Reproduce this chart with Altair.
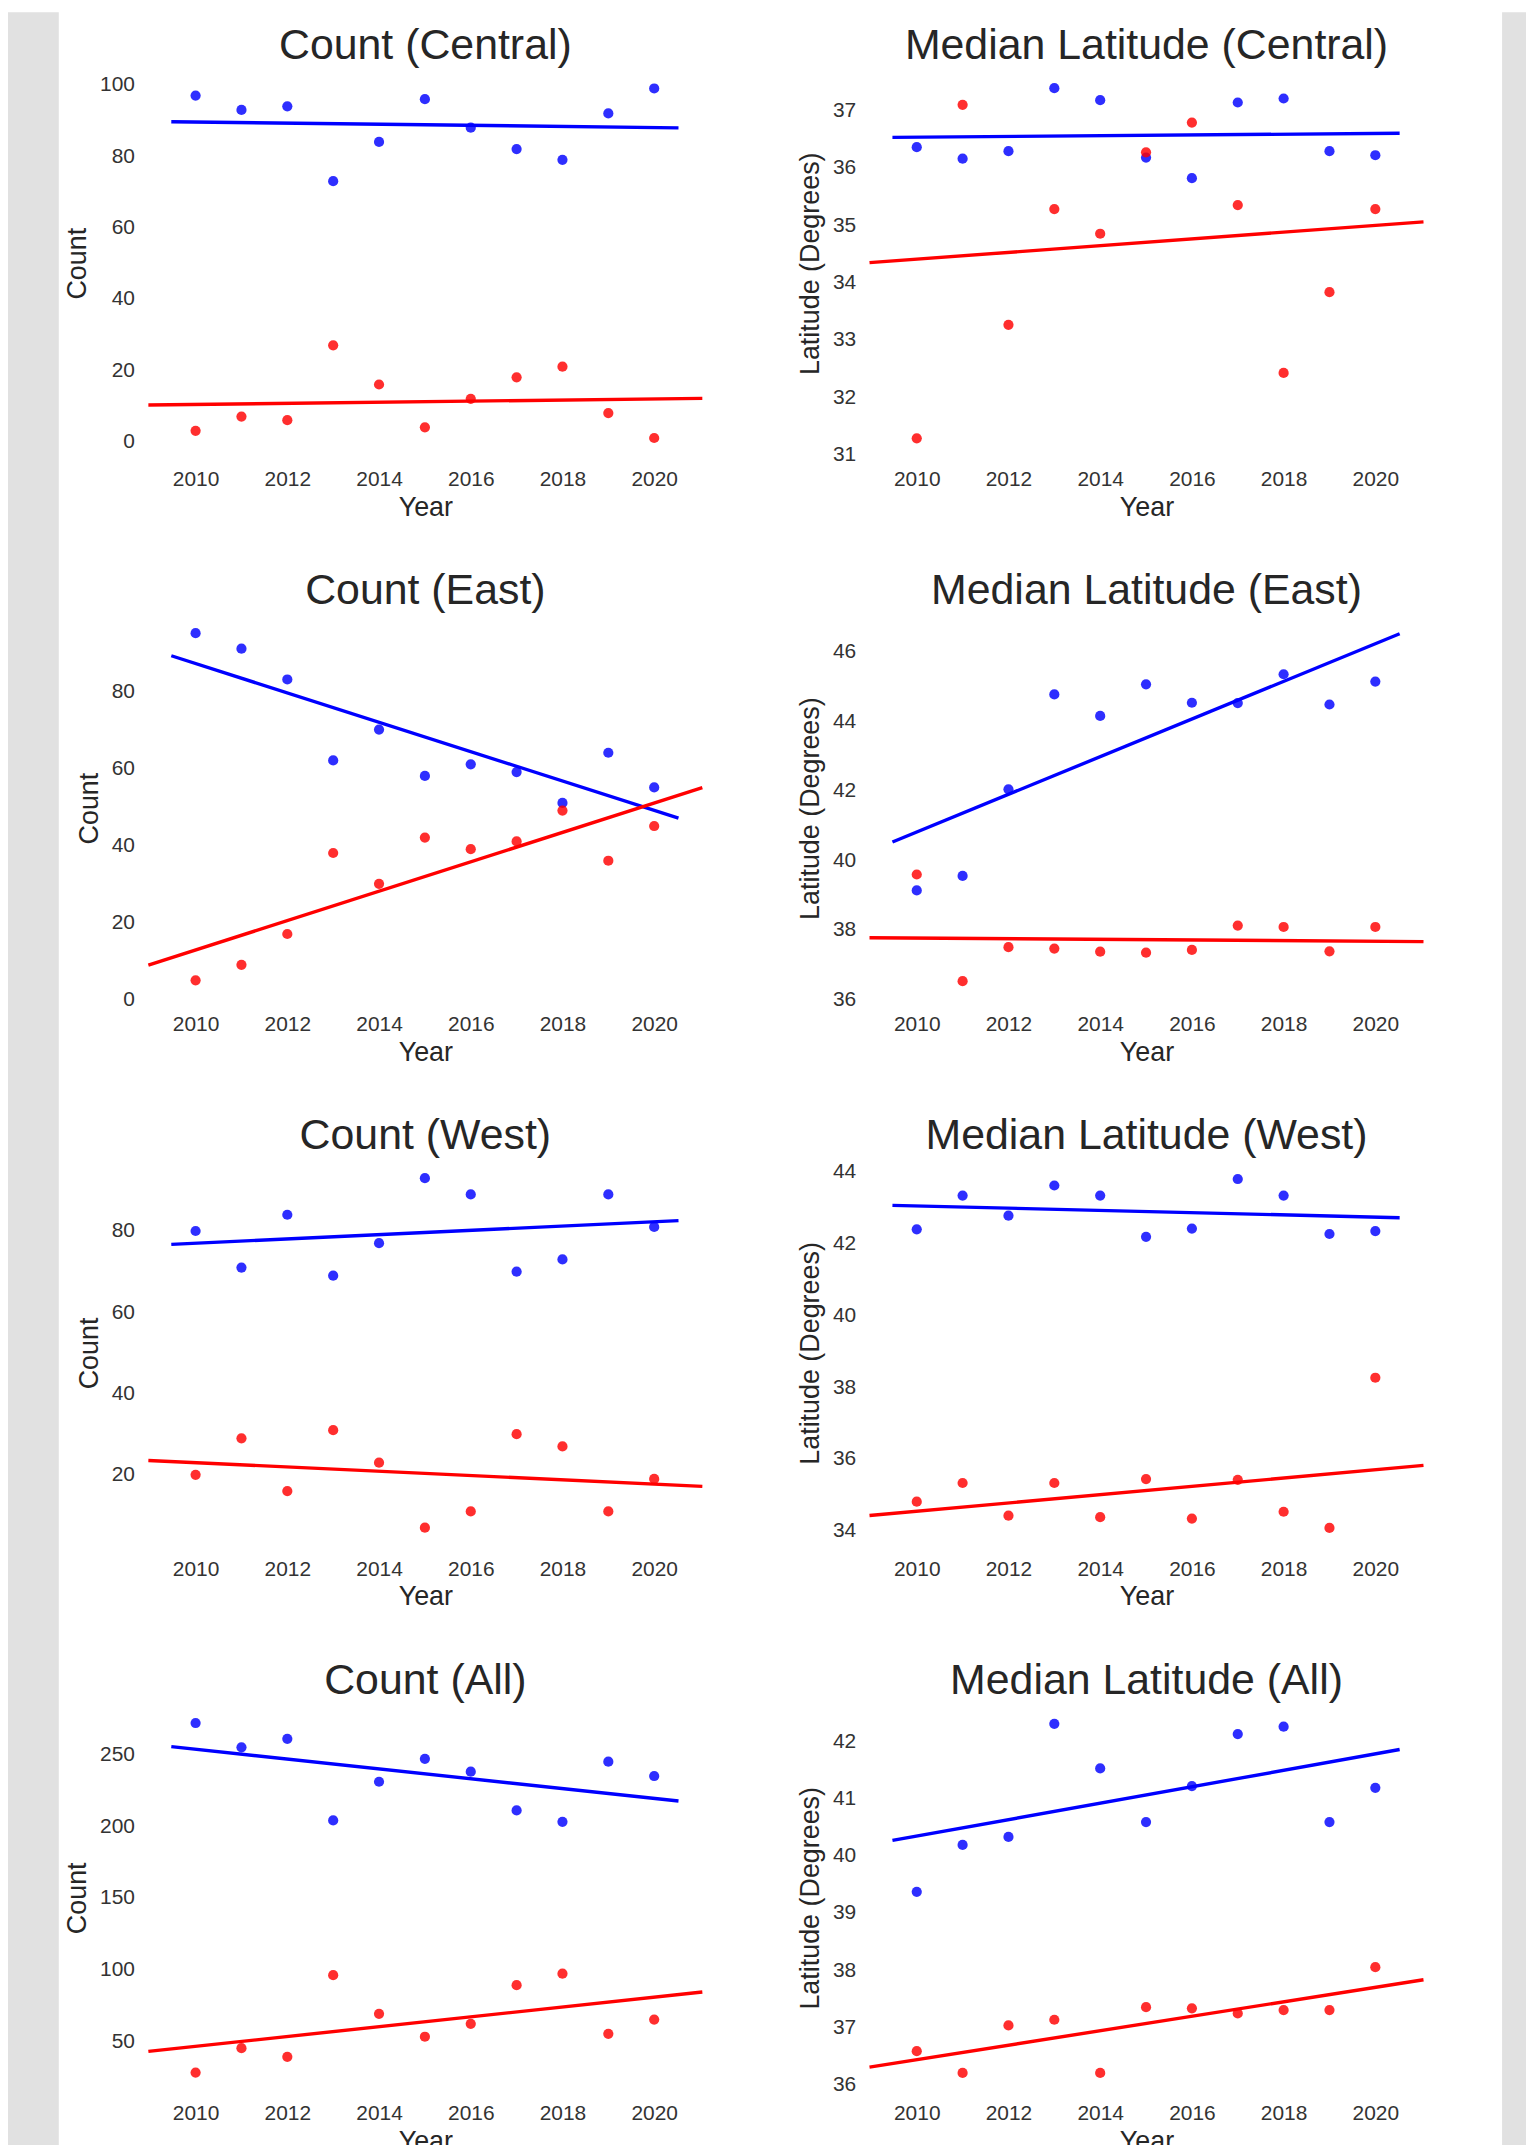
import altair as alt
import pandas as pd

# ---------------- data ----------------
years = [2010, 2011, 2012, 2013, 2014, 2015, 2016, 2017, 2018, 2019, 2020]
series_names = ["Series 1", "Series 2"]

count_central_blue = [97, 93, 94, 73, 84, 96, 88, 82, 79, 92, 99]
count_central_red = [3, 7, 6, 27, 16, 4, 12, 18, 21, 8, 1]
lat_central_blue = [36.36, 36.16, 36.29, 37.39, 37.18, 36.18, 35.82, 37.14, 37.21, 36.29, 36.22]
lat_central_red = [31.28, 37.10, 33.26, 35.28, 34.85, 36.27, 36.79, 35.35, 32.42, 33.83, 35.28]

count_east_blue = [95, 91, 83, 62, 70, 58, 61, 59, 51, 64, 55]
count_east_red = [5, 9, 17, 38, 30, 42, 39, 41, 49, 36, 45]
lat_east_blue = [39.13, 39.55, 42.04, 44.77, 44.15, 45.06, 44.53, 44.52, 45.35, 44.48, 45.14]
lat_east_red = [39.59, 36.52, 37.50, 37.46, 37.37, 37.34, 37.42, 38.12, 38.08, 37.38, 38.08]

count_west_blue = [80, 71, 84, 69, 77, 93, 89, 70, 73, 89, 81]
count_west_red = [20, 29, 16, 31, 23, 7, 11, 30, 27, 11, 19]
lat_west_blue = [42.39, 43.33, 42.77, 43.61, 43.33, 42.18, 42.41, 43.79, 43.33, 42.26, 42.34]
lat_west_red = [34.81, 35.33, 34.42, 35.33, 34.38, 35.44, 34.34, 35.42, 34.53, 34.08, 38.26]

count_all_blue = [272, 255, 261, 204, 231, 247, 238, 211, 203, 245, 235]
count_all_red = [28, 45, 39, 96, 69, 53, 62, 89, 97, 55, 65]
lat_all_blue = [39.37, 40.19, 40.33, 42.31, 41.53, 40.59, 41.22, 42.13, 42.26, 40.59, 41.19]
lat_all_red = [36.58, 36.20, 37.03, 37.13, 36.20, 37.35, 37.33, 37.24, 37.30, 37.30, 38.05]

x_ticks = [2010, 2012, 2014, 2016, 2018, 2020]

# ---------------- styling ----------------
FONT = "Liberation Sans"
BLUE = "#0000ff"
RED = "#ff0000"
GREY = "#e1e1e1"
X_DOMAIN = [2008.95, 2021.07]
BLUE_EXT = [2009.47, 2020.53]
RED_EXT = [2008.97, 2021.05]
PW, PH = 558, 386


def panel(title, ytitle, blue, red, ydom, yticks):
    df = pd.DataFrame({
        "Year": years + years,
        "Value": blue + red,
        "Series": [series_names[0]] * len(years) + [series_names[1]] * len(years),
    })
    base = alt.Chart(df)
    ex = alt.X("Year:Q",
               scale=alt.Scale(domain=X_DOMAIN, nice=False, zero=False),
               axis=alt.Axis(values=x_ticks, format="d", title="Year",
                             labelPadding=13, titlePadding=5))
    ey = alt.Y("Value:Q",
               scale=alt.Scale(domain=ydom, nice=False, zero=False),
               axis=alt.Axis(values=yticks, format="d", title=ytitle,
                             labelPadding=13, titlePadding=8))
    layers = []
    for name, color, ext in ((series_names[0], BLUE, BLUE_EXT),
                             (series_names[1], RED, RED_EXT)):
        sub = base.transform_filter(alt.datum.Series == name)
        layers.append(sub.mark_circle(size=105, opacity=0.82, color=color)
                      .encode(x=ex, y=ey))
        layers.append(sub.transform_regression("Year", "Value", extent=ext)
                      .mark_line(color=color, strokeWidth=3.4)
                      .encode(x=ex, y=ey))
    return alt.layer(*layers).properties(
        width=PW, height=PH,
        title=alt.TitleParams(title, fontSize=43, font=FONT, fontWeight="normal",
                              color="#262626", anchor="middle", frame="group",
                              baseline="alphabetic", offset=-31),
    )


panels = [
    panel("Count (Central)", "Count", count_central_blue, count_central_red,
          [-3.9, 103.9], [0, 20, 40, 60, 80, 100]),
    panel("Median Latitude (Central)", "Latitude (Degrees)", lat_central_blue, lat_central_red,
          [30.98, 37.69], [31, 32, 33, 34, 35, 36, 37]),
    panel("Count (East)", "Count", count_east_blue, count_east_red,
          [-0.2, 99.5], [0, 20, 40, 60, 80]),
    panel("Median Latitude (East)", "Latitude (Degrees)", lat_east_blue, lat_east_red,
          [35.97, 47.03], [36, 38, 40, 42, 44, 46]),
    panel("Count (West)", "Count", count_west_blue, count_west_red,
          [2.7, 97.3], [20, 40, 60, 80]),
    panel("Median Latitude (West)", "Latitude (Degrees)", lat_west_blue, lat_west_red,
          [33.6, 44.3], [34, 36, 38, 40, 42, 44]),
    panel("Count (All)", "Count", count_all_blue, count_all_red,
          [15.8, 284.2], [50, 100, 150, 200, 250]),
    panel("Median Latitude (All)", "Latitude (Degrees)", lat_all_blue, lat_all_red,
          [35.9, 42.63], [36, 37, 38, 39, 40, 41, 42]),
]

grid = alt.concat(*panels, columns=2,
                  spacing=alt.RowColnumber(row=161, column=166),
                  bounds="flush")

# grey page margins of the original screenshot (decoration only)
strip_df = pd.DataFrame({"k": [0]})
left_strip = (alt.Chart(strip_df).mark_rect(color=GREY)
              .encode(x=alt.value(0), x2=alt.value(51), y=alt.value(-59), y2=alt.value(2090))
              .properties(width=55, height=2090))
right_strip = (alt.Chart(strip_df).mark_rect(color=GREY)
               .encode(x=alt.value(72), x2=alt.value(96), y=alt.value(-59), y2=alt.value(2090))
               .properties(width=96, height=2090))

chart = (
    alt.hconcat(left_strip, grid, right_strip, spacing=0)
    .properties(padding={"top": 0, "left": 0, "right": 0, "bottom": 0})
    .configure(font=FONT)
    .configure_view(stroke=None)
    .configure_axis(grid=False, domain=False, ticks=False, tickSize=0,
                    labelFont=FONT, titleFont=FONT,
                    labelFontSize=21, titleFontSize=27,
                    labelColor="#333333", titleColor="#262626",
                    titleFontWeight="normal")
)

chart.save("out.html", embed_options={"renderer": "svg", "actions": False})
